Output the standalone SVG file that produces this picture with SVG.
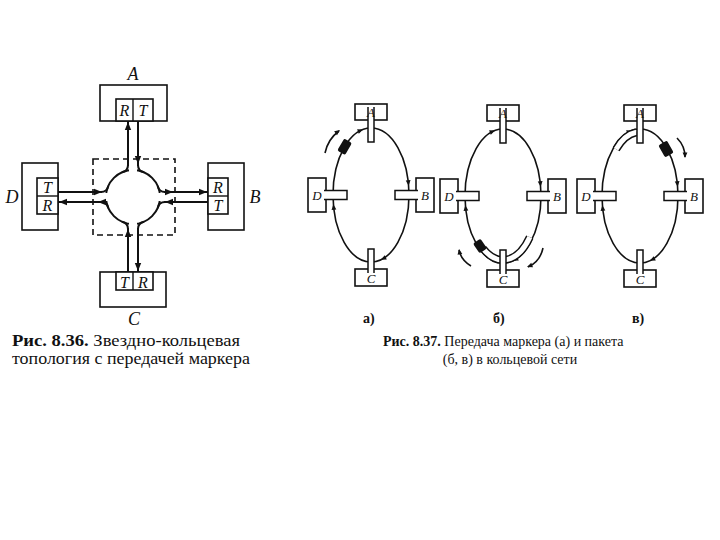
<svg xmlns="http://www.w3.org/2000/svg" xmlns:xlink="http://www.w3.org/1999/xlink" width="720" height="540" viewBox="0 0 720 540">
<style>
.bx{fill:#fff;stroke:#111;stroke-width:1.6}
.ln{fill:none;stroke:#111;stroke-width:2}
.rg{fill:none;stroke:#111;stroke-width:1.6}
.stem{fill:#fff;stroke:#111;stroke-width:1.5}
.lbl{font-family:"Liberation Serif",serif;font-style:italic;fill:#111}
.big{font-size:18px}
.sm{font-size:16px}
.rl{font-size:13px}
.cap{font-family:"Liberation Serif",serif;fill:#111}
.hd{fill:#111}
.band{fill:none;stroke:#111;stroke-width:8}
.bandw{fill:none;stroke:#fff;stroke-width:5}
</style>
<defs>
<path id="ahL" d="M0,0 L-8,-3.2 L-8,3.2 Z" class="hd"/>
<path id="ah" d="M0,0 L-5.5,-2.4 L-5.5,2.4 Z" class="hd"/>
<g id="ringbase">
<ellipse cx="0" cy="0" rx="38" ry="67" class="rg"/>
<use xlink:href="#ah" transform="translate(-7.9,-65.5) rotate(-20.5)"/>
<use xlink:href="#ah" transform="translate(37.6,-9.3) rotate(85.4)"/>
<use xlink:href="#ah" transform="translate(9.8,64.7) rotate(154.8)"/>
<use xlink:href="#ah" transform="translate(-37.6,9.3) rotate(-95.4)"/>
</g>
<g id="ringnodes">
<rect x="-16" y="-91" width="32" height="16" class="bx"/>
<path d="M-3,-88 V-53 H3 V-88" class="stem"/>
<rect x="-16" y="74" width="32" height="17" class="bx"/>
<path d="M-3,78 V54 H3 V78" class="stem"/>
<rect x="-63" y="-17" width="18" height="34" class="bx"/>
<path d="M-47,-4.5 H-24 V4.5 H-47" class="stem"/>
<rect x="45" y="-17" width="18" height="34" class="bx"/>
<path d="M47,-4.5 H24 V4.5 H47" class="stem"/>
<text x="0" y="-78" text-anchor="middle" class="lbl rl">A</text>
<text x="0" y="88" text-anchor="middle" class="lbl rl">C</text>
<text x="-54" y="5" text-anchor="middle" class="lbl rl">D</text>
<text x="54" y="5" text-anchor="middle" class="lbl rl">B</text>
</g>
</defs>

<!-- Left diagram: star-ring topology -->
<g id="hub">
<rect x="93" y="159" width="82" height="76" fill="none" stroke="#111" stroke-width="1.6" stroke-dasharray="6,4"/>
<circle cx="133" cy="197" r="27" fill="#fff" stroke="#111" stroke-width="2"/>
<rect x="129" y="163" width="8" height="14" fill="#fff"/>
<rect x="129" y="217" width="8" height="14" fill="#fff"/>
<rect x="100" y="193" width="14" height="8" fill="#fff"/>
<rect x="152" y="193" width="14" height="8" fill="#fff"/>
<path class="ln" d="M128,165 Q128,171 122,172.3 M138,165 Q138,171 144,172.3 M101,192 Q107,192 108.3,186 M101,202 Q107,202 108.3,208 M165,192 Q159,192 157.7,186 M165,202 Q159,202 157.7,208 M128,229 Q128,223 122,221.7 M138,229 Q138,223 144,221.7"/>
</g>
<g id="nodeA">
<rect x="100" y="85" width="67" height="36" class="bx"/>
<rect x="116" y="99" width="37" height="22" class="bx"/>
<line x1="133" y1="99" x2="133" y2="121" stroke="#111" stroke-width="1.4"/>
<text x="124.5" y="116" text-anchor="middle" class="lbl sm">R</text>
<text x="143" y="116" text-anchor="middle" class="lbl sm">T</text>
<text x="133" y="80" text-anchor="middle" class="lbl big">A</text>
</g>
<g id="nodeB">
<rect x="208" y="163" width="36" height="67" class="bx"/>
<rect x="208" y="178" width="20" height="36" class="bx"/>
<line x1="208" y1="196" x2="228" y2="196" stroke="#111" stroke-width="1.4"/>
<text x="218" y="193" text-anchor="middle" class="lbl sm">R</text>
<text x="218" y="211" text-anchor="middle" class="lbl sm">T</text>
<text x="255" y="203" text-anchor="middle" class="lbl big">B</text>
</g>
<g id="nodeC">
<rect x="100" y="272" width="66" height="35" class="bx"/>
<rect x="116" y="272" width="37" height="18" class="bx"/>
<line x1="133" y1="272" x2="133" y2="290" stroke="#111" stroke-width="1.4"/>
<text x="124.5" y="288" text-anchor="middle" class="lbl sm">T</text>
<text x="143" y="288" text-anchor="middle" class="lbl sm">R</text>
<text x="134" y="325" text-anchor="middle" class="lbl big">C</text>
</g>
<g id="nodeD">
<rect x="22" y="163" width="36" height="67" class="bx"/>
<rect x="37" y="178" width="21" height="36" class="bx"/>
<line x1="37" y1="196" x2="58" y2="196" stroke="#111" stroke-width="1.4"/>
<text x="47.5" y="193" text-anchor="middle" class="lbl sm">T</text>
<text x="47.5" y="211" text-anchor="middle" class="lbl sm">R</text>
<text x="12" y="203" text-anchor="middle" class="lbl big">D</text>
</g>
<g id="connectors">
<line x1="128" y1="121" x2="128" y2="166" class="ln"/>
<line x1="138" y1="121" x2="138" y2="166" class="ln"/>
<line x1="58" y1="192" x2="102" y2="192" class="ln"/>
<line x1="58" y1="202" x2="102" y2="202" class="ln"/>
<line x1="164" y1="192" x2="208" y2="192" class="ln"/>
<line x1="164" y1="202" x2="208" y2="202" class="ln"/>
<line x1="128" y1="228" x2="128" y2="272" class="ln"/>
<line x1="138" y1="228" x2="138" y2="272" class="ln"/>
<use xlink:href="#ahL" transform="translate(128,122) rotate(-90)"/>
<use xlink:href="#ahL" transform="translate(138,164) rotate(90)"/>
<use xlink:href="#ahL" transform="translate(102,192)"/>
<use xlink:href="#ahL" transform="translate(59,202) rotate(180)"/>
<use xlink:href="#ahL" transform="translate(98,202) rotate(180)"/>
<use xlink:href="#ahL" transform="translate(173,192)"/>
<use xlink:href="#ahL" transform="translate(207,192)"/>
<use xlink:href="#ahL" transform="translate(165,202) rotate(180)"/>
<use xlink:href="#ahL" transform="translate(128,229) rotate(-90)"/>
<use xlink:href="#ahL" transform="translate(138,271) rotate(90)"/>
</g>

<!-- Ring a -->
<g id="ring-a">
<use xlink:href="#ringbase" transform="translate(371,195)"/>
<rect x="-7" y="-4.5" width="14" height="9" rx="2" fill="#111" transform="translate(344.6,146.8) rotate(-59.6)"/>
<path d="M325,153 Q328,139 339,131" class="rg"/>
<use xlink:href="#ah" transform="translate(340,130) rotate(-36)"/>
<use xlink:href="#ringnodes" transform="translate(371,195)"/>
</g>

<!-- Ring b -->
<g id="ring-b">
<use xlink:href="#ringbase" transform="translate(503,196)"/>
<path d="M529.8,237.1 A35,64 0 0 1 482.9,248.4" class="band"/>
<path d="M529.8,237.1 A35,64 0 0 1 482.9,248.4" class="bandw"/>
<rect x="-6" y="-4.5" width="12" height="9" rx="2" fill="#111" transform="translate(480,246) rotate(-124)"/>
<path d="M471,266 Q461,260 459,250" class="rg"/>
<use xlink:href="#ah" transform="translate(459,249) rotate(-100)"/>
<path d="M543,248 Q540,262 528,267" class="rg"/>
<use xlink:href="#ah" transform="translate(527,267) rotate(159)"/>
<use xlink:href="#ringnodes" transform="translate(503,196)"/>
</g>

<!-- Ring c -->
<g id="ring-c">
<use xlink:href="#ringbase" transform="translate(640,196)"/>
<path d="M616.1,149.2 A35,64 0 0 1 636.3,132.3" class="band"/>
<path d="M616.1,149.2 A35,64 0 0 1 636.3,132.3" class="bandw"/>
<rect x="-7" y="-5" width="14" height="10" rx="2" fill="#111" transform="translate(666,149) rotate(60.4)"/>
<path d="M677,138 Q685,146 685,157" class="rg"/>
<use xlink:href="#ah" transform="translate(685,158) rotate(90)"/>
<use xlink:href="#ringnodes" transform="translate(640,196)"/>
</g>

<!-- Captions -->
<g id="labels">
<text x="363" y="323" class="cap" font-size="14" font-weight="bold">а)</text>
<text x="493" y="323" class="cap" font-size="14" font-weight="bold">б)</text>
<text x="632" y="323" class="cap" font-size="14" font-weight="bold">в)</text>
<text x="12" y="346" class="cap" font-size="16" textLength="228" lengthAdjust="spacingAndGlyphs"><tspan font-weight="bold">Рис. 8.36.</tspan> Звездно-кольцевая</text>
<text x="12" y="364" class="cap" font-size="16" textLength="238" lengthAdjust="spacingAndGlyphs">топология с передачей маркера</text>
<text x="383" y="346" class="cap" font-size="14"><tspan font-weight="bold">Рис. 8.37.</tspan> Передача маркера (а) и пакета</text>
<text x="510" y="364" class="cap" font-size="14" text-anchor="middle">(б, в) в кольцевой сети</text>
</g>
</svg>
